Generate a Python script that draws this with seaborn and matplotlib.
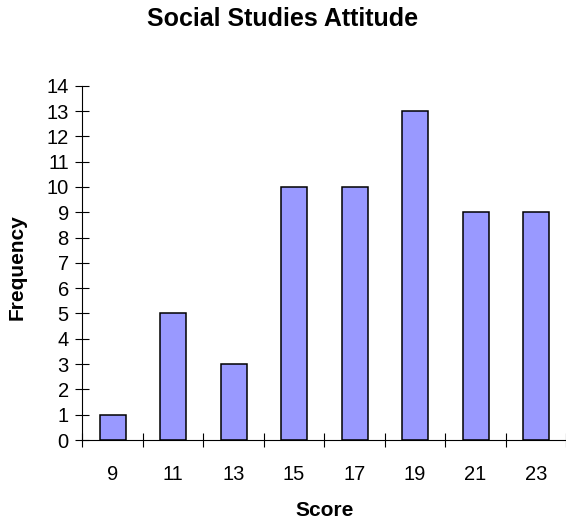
import matplotlib
matplotlib.use("Agg")
import matplotlib.pyplot as plt
import seaborn as sns
import pandas as pd

scores = ["9", "11", "13", "15", "17", "19", "21", "23"]
frequency = [1, 5, 3, 10, 10, 13, 9, 9]
y_ticks = list(range(0, 15))

sns.set_style("white", {"xtick.bottom": True, "ytick.left": True,
                        "text.color": "black", "axes.labelcolor": "black",
                        "xtick.color": "black", "ytick.color": "black"})
plt.rcParams["font.family"] = ["Liberation Sans", "DejaVu Sans"]

df = pd.DataFrame({"Score": scores, "Frequency": frequency})

W, H = 566, 525
fig = plt.figure(figsize=(W / 100, H / 100), dpi=100)
ax = fig.add_axes([82.3 / W, 1 - 440 / H, 484 / W, (440 - 85.7) / H])

sns.barplot(data=df, x="Score", y="Frequency", order=scores, color="#9999FF",
            saturation=1, width=0.43, edgecolor="black", linewidth=1.1, ax=ax)

ax.set_xlim(-0.5, len(scores) - 0.5)
ax.set_ylim(0, 14)

# category boundaries carry the tick marks, centres carry the labels
ax.set_xticks([i - 0.5 for i in range(len(scores) + 1)])
ax.set_xticklabels([])
ax.set_xticks(range(len(scores)), minor=True)
ax.set_xticklabels(scores, minor=True, fontsize=14.5, color="black")
ax.tick_params(axis="x", which="major", bottom=True, direction="inout", length=9.4,
               width=0.8, color="black")
ax.tick_params(axis="x", which="minor", bottom=True, length=0, pad=18)

ax.set_yticks(y_ticks)
ax.set_yticklabels([str(v) for v in y_ticks], fontsize=14.5, color="black")
ax.tick_params(axis="y", which="major", left=True, direction="inout", length=9.4,
               width=0.8, color="black", pad=5)

for side in ["top", "right"]:
    ax.spines[side].set_visible(False)
for side in ["left", "bottom"]:
    ax.spines[side].set_color("black")
    ax.spines[side].set_linewidth(0.8)

ax.set_xlabel("Score", fontsize=15, fontweight="bold", va="center", color="black")
ax.xaxis.set_label_coords(0.5, -(511 - 440) / (440 - 85.7))
ax.set_ylabel("Frequency", fontsize=15, fontweight="bold", va="center", color="black")
ax.yaxis.set_label_coords((17 - 82.3) / 484, (440 - 267) / (440 - 85.7))

fig.suptitle("Social Studies Attitude", fontsize=18, fontweight="bold",
             x=0.5, y=1 - 19 / H, va="center", color="black")

fig.savefig("out.png", dpi=100)
